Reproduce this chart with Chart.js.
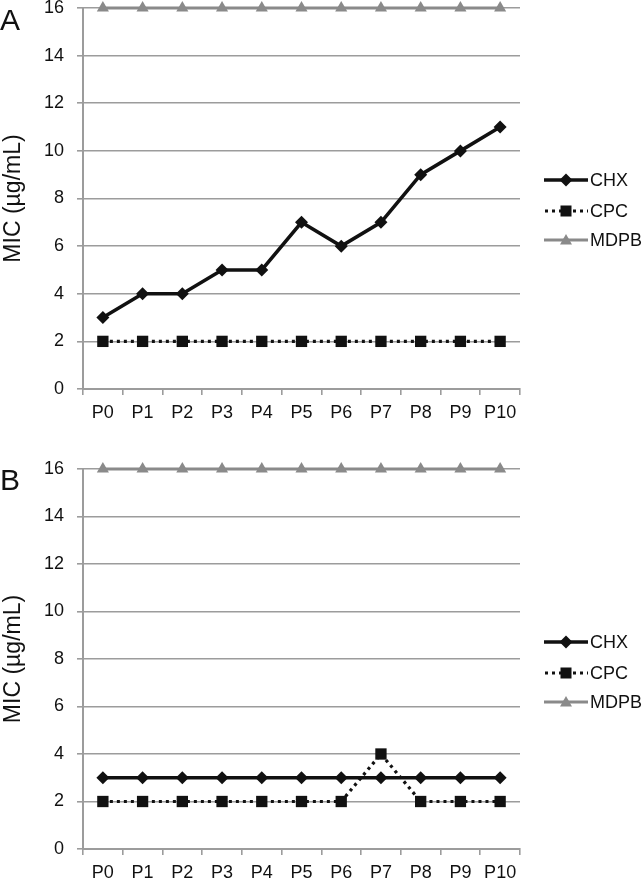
<!DOCTYPE html>
<html><head><meta charset="utf-8">
<script src="https://cdn.jsdelivr.net/npm/chart.js@4"></script>
<style>
html,body{margin:0;padding:0;background:#fff;width:644px;height:879px;overflow:hidden;font-family:"Liberation Sans",Arial,sans-serif;}
.panel{position:absolute;left:0;width:644px;}
.letter{position:absolute;left:0px;font-size:30px;color:#111;line-height:1;}
.legend{position:absolute;left:544px;width:100px;font-size:18px;color:#111;}
.legend .row{position:absolute;left:0;height:20px;width:100px;white-space:nowrap;}
.legend svg{position:absolute;left:0;top:0;}
.legend span{position:absolute;left:46px;top:0;line-height:20px;}
</style></head>
<body>
<div class="panel" style="top:0;height:440px"><canvas id="cA" width="644" height="440"></canvas></div>
<div class="panel" style="top:440px;height:439px"><canvas id="cB" width="644" height="439"></canvas></div>
<div class="letter" style="top:5px">A</div>
<div class="letter" style="top:465px">B</div>
<div class="legend" id="legA" style="top:170px"></div>
<div class="legend" id="legB" style="top:632px"></div>
<script>
const categories = ['P0','P1','P2','P3','P4','P5','P6','P7','P8','P9','P10'];
const seriesNames = ['CHX','CPC','MDPB'];
const yTicks = [0,2,4,6,8,10,12,14,16];
const chxA  = [3,4,4,5,5,7,6,7,9,10,11];
const cpcA  = [2,2,2,2,2,2,2,2,2,2,2];
const mdpbA = [16,16,16,16,16,16,16,16,16,16,16];
const chxB  = [3,3,3,3,3,3,3,3,3,3,3];
const cpcB  = [2,2,2,2,2,2,2,4,2,2,2];
const mdpbB = [16,16,16,16,16,16,16,16,16,16,16];

Chart.defaults.font.family = '"Liberation Sans", Arial, sans-serif';
Chart.defaults.color = '#111';
const GRID = '#9c9c9c';
const DARK = '#111111';
const GRAY = '#8a8a8a';

function makeChart(id, chx, cpc, mdpb, padTop, xHeight){
  return new Chart(document.getElementById(id), {
    type:'line',
    data:{labels:categories, datasets:[
      {label:seriesNames[0], data:chx, borderColor:DARK, backgroundColor:DARK, borderWidth:3.5,
       pointStyle:'rectRot', pointRadius:6.5, pointBorderWidth:0, pointBackgroundColor:DARK, tension:0, clip:false},
      {label:seriesNames[1], data:cpc, borderColor:DARK, backgroundColor:DARK, borderWidth:3.2, borderDash:[3,4],
       pointStyle:'rect', pointRadius:8, pointBorderWidth:0, pointBackgroundColor:DARK, tension:0, clip:false},
      {label:seriesNames[2], data:mdpb, borderColor:GRAY, backgroundColor:GRAY, borderWidth:3,
       pointStyle:'triangle', pointRadius:7, pointBorderWidth:0, pointBackgroundColor:GRAY, tension:0, clip:false}
    ]},
    options:{
      responsive:false, animation:false, devicePixelRatio:1,
      layout:{padding:{top:padTop,right:124,left:0,bottom:0}},
      plugins:{legend:{display:false}, tooltip:{enabled:false}},
      scales:{
        x:{offset:true,
           ticks:{font:{size:18}, color:DARK, padding:7, autoSkip:false, maxRotation:0},
           grid:{offset:true, drawOnChartArea:false, drawTicks:true, tickLength:6, color:GRID, lineWidth:1.6},
           border:{color:GRID, width:2},
           afterFit(s){ s.height = xHeight; s.paddingLeft = 0; s.paddingRight = 0; }
        },
        y:{min:0, max:16,
           afterBuildTicks(s){ s.ticks = yTicks.map(v=>({value:v})); },
           ticks:{font:{size:18}, color:DARK, padding:13},
           grid:{color:GRID, lineWidth:1.6, tickLength:6, drawTicks:true},
           border:{color:GRID, width:2},
           title:{display:true, text:'MIC (µg/mL)', font:{size:23}, color:DARK, padding:{top:0,bottom:0}},
           afterFit(s){ s.width = 83; s.paddingTop = 0; s.paddingBottom = 0; }
        }
      }
    }
  });
}
makeChart('cA', chxA, cpcA, mdpbA, 8, 51);
makeChart('cB', chxB, cpcB, mdpbB, 29, 30);

function symbol(i){
  if(i===0) return '<svg width="44" height="20"><line x1="0" y1="10" x2="44" y2="10" stroke="#111" stroke-width="3.5"/><polygon points="22,3.5 28.5,10 22,16.5 15.5,10" fill="#111"/></svg>';
  if(i===1) return '<svg width="44" height="20"><line x1="1" y1="10" x2="44" y2="10" stroke="#111" stroke-width="3.2" stroke-dasharray="3,4"/><rect x="16.5" y="4.5" width="11" height="11" fill="#111"/></svg>';
  return '<svg width="44" height="20"><line x1="0" y1="10" x2="44" y2="10" stroke="#8a8a8a" stroke-width="3"/><polygon points="22,4 28,14.5 16,14.5" fill="#8a8a8a"/></svg>';
}
function legend(id){
  const el = document.getElementById(id);
  const offs = [0,31,60];
  seriesNames.forEach((n,i)=>{
    const r = document.createElement('div');
    r.className='row'; r.style.top = offs[i]+'px';
    r.innerHTML = symbol(i) + '<span>'+n+'</span>';
    el.appendChild(r);
  });
}
legend('legA'); legend('legB');
</script>
</body></html>
